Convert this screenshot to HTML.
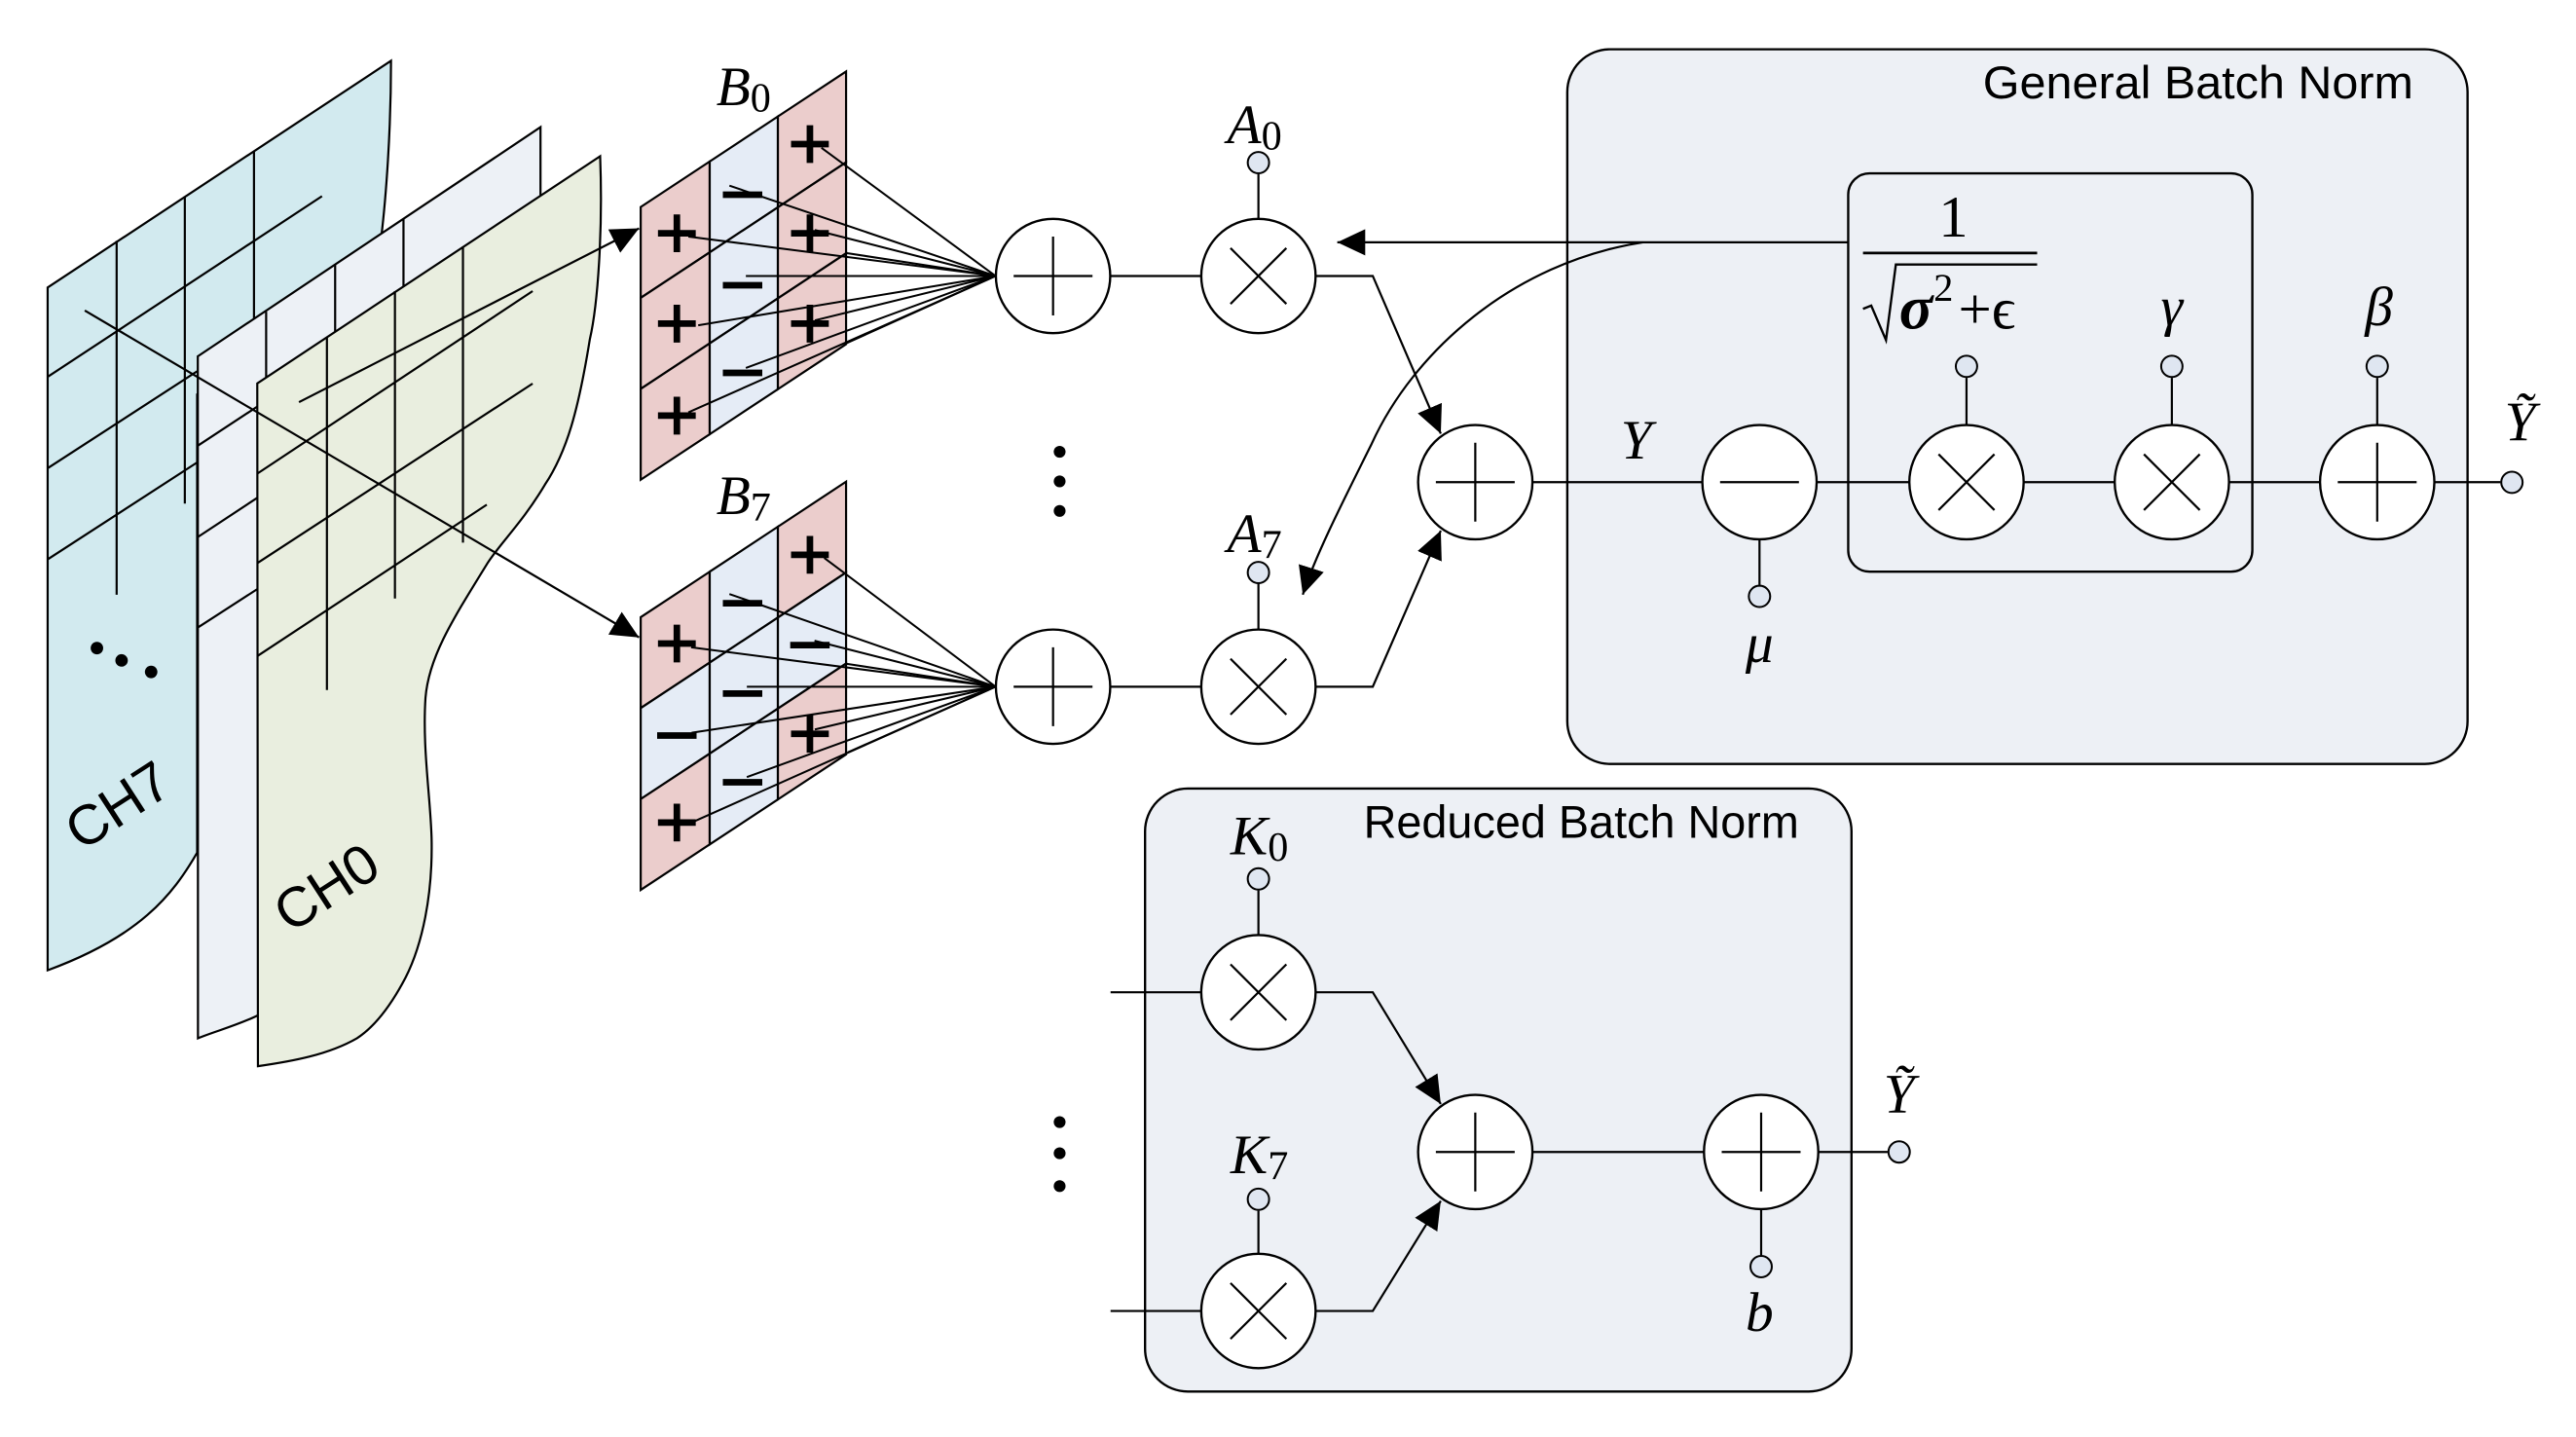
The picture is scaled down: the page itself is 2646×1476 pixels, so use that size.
<!DOCTYPE html>
<html><head><meta charset="utf-8"><style>
html,body{margin:0;padding:0;background:#fff;}
svg{display:block;}
.it{font-family:"Liberation Serif",serif;font-style:italic;}
.rm{font-family:"Liberation Serif",serif;}
.sa{font-family:"Liberation Sans",sans-serif;}
</style></head><body>
<svg width="2646" height="1476" viewBox="0 0 1568 874.7" preserveAspectRatio="none" xmlns="http://www.w3.org/2000/svg">
<defs>
<marker id="ah" markerUnits="userSpaceOnUse" markerWidth="18" markerHeight="16" refX="17" refY="8" orient="auto">
<path d="M0,0 L17,8 L0,16 Z" fill="#000"/>
</marker>
<g id="pl"><line x1="-11.5" y1="0" x2="11.5" y2="0" stroke="#000" stroke-width="4"/><line x1="0" y1="-11.5" x2="0" y2="11.5" stroke="#000" stroke-width="4"/></g>
<g id="mi"><line x1="-12" y1="0" x2="12" y2="0" stroke="#000" stroke-width="4"/></g>
<g id="sum"><circle r="34.8" fill="#fff" stroke="#000" stroke-width="1.4"/><line x1="-24" y1="0" x2="24" y2="0" stroke="#000" stroke-width="1.3"/><line x1="0" y1="-24" x2="0" y2="24" stroke="#000" stroke-width="1.3"/></g>
<g id="mul"><circle r="34.8" fill="#fff" stroke="#000" stroke-width="1.4"/><line x1="-17" y1="-17" x2="17" y2="17" stroke="#000" stroke-width="1.3"/><line x1="-17" y1="17" x2="17" y2="-17" stroke="#000" stroke-width="1.3"/></g>
<g id="sub"><circle r="34.8" fill="#fff" stroke="#000" stroke-width="1.4"/><line x1="-24" y1="0" x2="24" y2="0" stroke="#000" stroke-width="1.3"/></g>
</defs>
<g stroke="#000" stroke-width="1.3" fill="none">

<path d="M29,175 L238,37 C238,80 235,120 232,145 L120,240 L120,519 C105,545 85,570 29,590.6 Z" fill="#d2eaef"/>
<line x1="71" y1="146.6" x2="71" y2="362"/>
<line x1="112.5" y1="119.4" x2="112.5" y2="306.5"/>
<line x1="154.6" y1="92" x2="154.6" y2="200"/>
<line x1="29" y1="229.4" x2="196" y2="119.4"/>
<line x1="29" y1="285" x2="120" y2="226"/>
<line x1="29" y1="340.5" x2="120" y2="281.5"/>

<path d="M120.4,216.9 L329,77.4 L329,140 L240,400 L200,615 L157,618 C145,624 130,628 120.5,632 Z" fill="#edf1f6"/>
<line x1="162" y1="189.7" x2="162" y2="300"/>
<line x1="204" y1="161" x2="204" y2="250"/>
<line x1="245.6" y1="133" x2="245.6" y2="230"/>
<line x1="120.4" y1="271.3" x2="156.6" y2="247.5"/>
<line x1="120.4" y1="326.9" x2="156.6" y2="303"/>
<line x1="120.4" y1="382" x2="156.6" y2="358.6"/>

<path d="M156.6,233.4 L365.3,95.1 C367,140 364,185 359,206.7 C352,250 345,275 331.7,295 C318,318 305,330 296.8,342.7 C275,378 261,400 259,424.7 C257,455 262,485 262.7,510 C263.5,545 257,575 246.9,595 C238,612 228,625 217.3,632 C200,642 178,646 157,649 Z" fill="#e9eedf"/>
<line x1="199" y1="205.6" x2="199" y2="420"/>
<line x1="240.4" y1="177.2" x2="240.4" y2="364.3"/>
<line x1="281.8" y1="150" x2="281.8" y2="330.3"/>
<line x1="156.6" y1="288.3" x2="324.2" y2="177.2"/>
<line x1="156.6" y1="342.8" x2="324.2" y2="233.5"/>
<line x1="156.6" y1="399.4" x2="296.3" y2="307.2"/>

<line x1="182" y1="244.8" x2="389" y2="139" marker-end="url(#ah)"/>
<line x1="51.6" y1="189" x2="389" y2="388" marker-end="url(#ah)"/>
</g>
<circle cx="59" cy="394.5" r="3.8" fill="#000"/>
<circle cx="74" cy="402" r="3.8" fill="#000"/>
<circle cx="92" cy="409" r="3.8" fill="#000"/>
<text class="sa" font-size="34" transform="translate(78,500) rotate(-33)" text-anchor="middle">CH7</text>
<text class="sa" font-size="34" transform="translate(205,550) rotate(-33)" text-anchor="middle">CH0</text>

<g stroke="#000" stroke-width="1.3">
<polygon points="390,126 432,98.3 432,153.6 390,181.3" fill="#ebcdcc"/>
<polygon points="390,181.3 432,153.6 432,209 390,236.7" fill="#ebcdcc"/>
<polygon points="390,236.7 432,209 432,264.3 390,292" fill="#ebcdcc"/>
<polygon points="432,98.3 473.5,70.9 473.5,126.2 432,153.6" fill="#e5ecf6"/>
<polygon points="432,153.6 473.5,126.2 473.5,181.6 432,209" fill="#e5ecf6"/>
<polygon points="432,209 473.5,181.6 473.5,236.9 432,264.3" fill="#e5ecf6"/>
<polygon points="473.5,70.9 515,43.5 515,98.8 473.5,126.2" fill="#ebcdcc"/>
<polygon points="473.5,126.2 515,98.8 515,154.2 473.5,181.6" fill="#ebcdcc"/>
<polygon points="473.5,181.6 515,154.2 515,209.5 473.5,236.9" fill="#ebcdcc"/>
</g>
<use href="#pl" x="412" y="142"/><use href="#pl" x="412" y="197"/><use href="#pl" x="412" y="253"/>
<use href="#mi" x="452" y="118.5"/><use href="#mi" x="452" y="173.6"/><use href="#mi" x="452" y="227"/>
<use href="#pl" x="493" y="87.7"/><use href="#pl" x="493" y="142"/><use href="#pl" x="493" y="197"/>
<g stroke="#000" stroke-width="1.2">
<line x1="500" y1="90" x2="606" y2="168"/>
<line x1="444" y1="113" x2="606" y2="168"/>
<line x1="419" y1="144" x2="606" y2="168"/>
<line x1="496" y1="140" x2="606" y2="168"/>
<line x1="515" y1="154" x2="606" y2="168"/>
<line x1="454" y1="168" x2="606" y2="168"/>
<line x1="425" y1="198" x2="606" y2="168"/>
<line x1="496" y1="195" x2="606" y2="168"/>
<line x1="454" y1="224" x2="606" y2="168"/>
<line x1="515" y1="209" x2="606" y2="168"/>
<line x1="419" y1="251" x2="606" y2="168"/>
</g>
<text class="it" font-size="34" x="436" y="64">B<tspan class="rm" font-style="normal" font-size="25" dy="4">0</tspan></text>

<g transform="translate(0,249.7)">
<g stroke="#000" stroke-width="1.3">
<polygon points="390,126 432,98.3 432,153.6 390,181.3" fill="#ebcdcc"/>
<polygon points="390,181.3 432,153.6 432,209 390,236.7" fill="#e5ecf6"/>
<polygon points="390,236.7 432,209 432,264.3 390,292" fill="#ebcdcc"/>
<polygon points="432,98.3 473.5,70.9 473.5,126.2 432,153.6" fill="#e5ecf6"/>
<polygon points="432,153.6 473.5,126.2 473.5,181.6 432,209" fill="#e5ecf6"/>
<polygon points="432,209 473.5,181.6 473.5,236.9 432,264.3" fill="#e5ecf6"/>
<polygon points="473.5,70.9 515,43.5 515,98.8 473.5,126.2" fill="#ebcdcc"/>
<polygon points="473.5,126.2 515,98.8 515,154.2 473.5,181.6" fill="#e5ecf6"/>
<polygon points="473.5,181.6 515,154.2 515,209.5 473.5,236.9" fill="#ebcdcc"/>
</g>
<use href="#pl" x="412" y="142"/><use href="#mi" x="412" y="198"/><use href="#pl" x="412" y="251"/>
<use href="#mi" x="452" y="117.5"/><use href="#mi" x="452" y="172.5"/><use href="#mi" x="452" y="226.5"/>
<use href="#pl" x="493" y="88"/><use href="#mi" x="493" y="143"/><use href="#pl" x="493" y="197"/>
</g>
<g stroke="#000" stroke-width="1.2">
<line x1="501.7" y1="339.6" x2="606" y2="418"/>
<line x1="444" y1="361.6" x2="606" y2="418"/>
<line x1="420.7" y1="394" x2="606" y2="418"/>
<line x1="495.8" y1="390" x2="606" y2="418"/>
<line x1="515" y1="404" x2="606" y2="418"/>
<line x1="454.6" y1="418" x2="606" y2="418"/>
<line x1="421" y1="446" x2="606" y2="418"/>
<line x1="496" y1="444" x2="606" y2="418"/>
<line x1="454.6" y1="473" x2="606" y2="418"/>
<line x1="516" y1="458" x2="606" y2="418"/>
<line x1="420.7" y1="500.8" x2="606" y2="418"/>
</g>
<text class="it" font-size="34" x="436" y="313">B<tspan class="rm" font-style="normal" font-size="25" dy="4">7</tspan></text>

<circle cx="645" cy="275" r="3.6"/><circle cx="645" cy="293" r="3.6"/><circle cx="645" cy="311" r="3.6"/>
<circle cx="645" cy="683" r="3.6"/><circle cx="645" cy="702" r="3.6"/><circle cx="645" cy="722" r="3.6"/>

<rect x="954" y="30" width="548" height="435" rx="26" fill="#edf0f5" stroke="#000" stroke-width="1.4"/>
<text class="sa" font-size="28" x="1469" y="60" text-anchor="end" textLength="262" lengthAdjust="spacingAndGlyphs">General  Batch Norm</text>
<rect x="1125" y="105.5" width="246" height="242.5" rx="13" fill="none" stroke="#000" stroke-width="1.4"/>

<rect x="697" y="480" width="430" height="367" rx="26" fill="#edf0f5" stroke="#000" stroke-width="1.4"/>
<text class="sa" font-size="28" x="1095" y="510" text-anchor="end" textLength="265" lengthAdjust="spacingAndGlyphs">Reduced Batch Norm</text>

<g stroke="#000" stroke-width="1.3" fill="none">
<line x1="676" y1="168" x2="731" y2="168"/>
<line x1="676" y1="418" x2="731" y2="418"/>
<line x1="766" y1="106" x2="766" y2="133"/>
<line x1="766" y1="355" x2="766" y2="383"/>
<polyline points="801,168 835.6,168 877,264" marker-end="url(#ah)"/>
<polyline points="801,418 835.6,418 877,323" marker-end="url(#ah)"/>
<line x1="1125" y1="147.5" x2="814" y2="147.5" marker-end="url(#ah)"/>
<path d="M1000,147.5 C920,160 860,215 835,270 C815,310 800,340 793,362" marker-end="url(#ah)"/>
<line x1="932" y1="293.5" x2="1036" y2="293.5"/>
<line x1="1106" y1="293.5" x2="1162" y2="293.5"/>
<line x1="1232" y1="293.5" x2="1287" y2="293.5"/>
<line x1="1357" y1="293.5" x2="1412" y2="293.5"/>
<line x1="1482" y1="293.5" x2="1522" y2="293.5"/>
<line x1="1071" y1="328" x2="1071" y2="356"/>
<line x1="1197" y1="230" x2="1197" y2="259"/>
<line x1="1322" y1="230" x2="1322" y2="259"/>
<line x1="1447" y1="230" x2="1447" y2="259"/>
<line x1="676" y1="604" x2="731" y2="604"/>
<line x1="676" y1="798" x2="731" y2="798"/>
<line x1="766" y1="542" x2="766" y2="569"/>
<line x1="766" y1="737" x2="766" y2="763"/>
<polyline points="801,604 835.6,604 877,672" marker-end="url(#ah)"/>
<polyline points="801,798 835.6,798 877,731" marker-end="url(#ah)"/>
<line x1="932" y1="701.2" x2="1037" y2="701.2"/>
<line x1="1107" y1="701.2" x2="1149" y2="701.2"/>
<line x1="1072" y1="736" x2="1072" y2="764"/>
</g>

<use href="#sum" x="641" y="168"/>
<use href="#sum" x="641" y="418"/>
<use href="#mul" x="766" y="168"/>
<use href="#mul" x="766" y="418"/>
<use href="#sum" x="898" y="293.5"/>
<use href="#sub" x="1071" y="293.5"/>
<use href="#mul" x="1197" y="293.5"/>
<use href="#mul" x="1322" y="293.5"/>
<use href="#sum" x="1447" y="293.5"/>
<use href="#mul" x="766" y="604"/>
<use href="#mul" x="766" y="798"/>
<use href="#sum" x="898" y="701.2"/>
<use href="#sum" x="1072" y="701.2"/>

<g fill="#dfe6f1" stroke="#000" stroke-width="1.2">
<circle cx="766" cy="99" r="6.5"/>
<circle cx="766" cy="348.5" r="6.5"/>
<circle cx="1071" cy="363" r="6.5"/>
<circle cx="1197" cy="223" r="6.5"/>
<circle cx="1322" cy="223" r="6.5"/>
<circle cx="1447" cy="223" r="6.5"/>
<circle cx="1529" cy="293.6" r="6.5"/>
<circle cx="766" cy="535" r="6.5"/>
<circle cx="766" cy="730" r="6.5"/>
<circle cx="1072" cy="771" r="6.5"/>
<circle cx="1156" cy="701.2" r="6.5"/>
</g>

<text class="it" font-size="34" x="747" y="87">A<tspan class="rm" font-style="normal" font-size="25" dy="4">0</tspan></text>
<text class="it" font-size="34" x="747" y="336">A<tspan class="rm" font-style="normal" font-size="25" dy="4">7</tspan></text>
<text class="it" font-size="34" x="749" y="520">K<tspan class="rm" font-style="normal" font-size="25" dy="4">0</tspan></text>
<text class="it" font-size="34" x="749" y="714">K<tspan class="rm" font-style="normal" font-size="25" dy="4">7</tspan></text>
<text class="it" font-size="34" x="996" y="279" text-anchor="middle">Y</text>
<text class="it" font-size="34" x="1071" y="403" text-anchor="middle">μ</text>
<text class="it" font-size="34" x="1322" y="198" text-anchor="middle">γ</text>
<text class="it" font-size="34" x="1448" y="198" text-anchor="middle">β</text>
<text class="it" font-size="34" x="1534" y="268" text-anchor="middle">Ỹ</text>
<text class="it" font-size="34" x="1156" y="677" text-anchor="middle">Ỹ</text>
<text class="it" font-size="34" x="1071" y="810" text-anchor="middle">b</text>
<text class="rm" font-size="36" x="1189" y="144" text-anchor="middle">1</text>
<line x1="1134" y1="154" x2="1240" y2="154" stroke="#000" stroke-width="1.6"/>
<polyline points="1134,188 1139,186 1148,207 1154,161 1240,161" fill="none" stroke="#000" stroke-width="1.4"/>
<text class="it" font-size="38" font-weight="bold" x="1156" y="200">σ</text>
<text class="rm" font-size="24" x="1177" y="183">2</text>
<text class="rm" font-size="36" x="1192" y="200">+ϵ</text>
</svg>
</body></html>
